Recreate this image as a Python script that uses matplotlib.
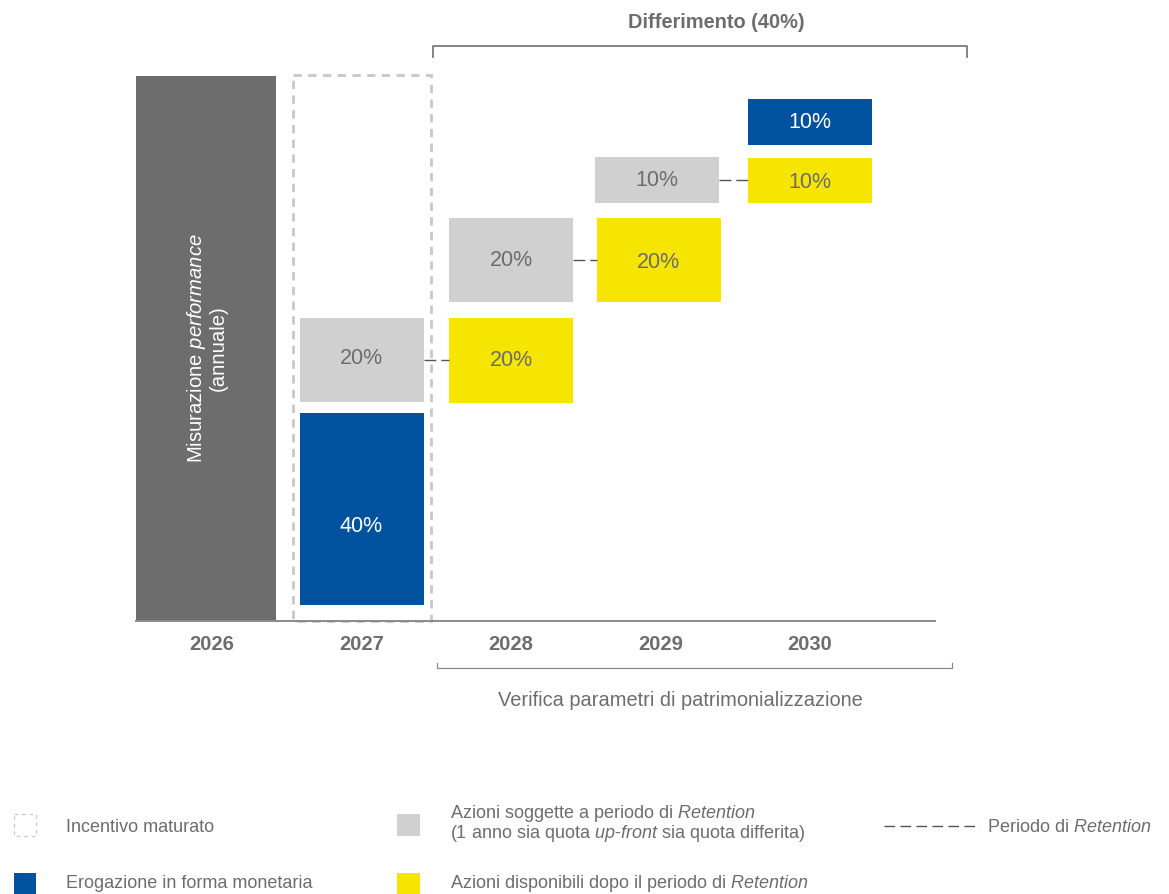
import matplotlib.pyplot as plt
from matplotlib.patches import Rectangle

plt.rcParams['font.family'] = ['Liberation Sans', 'DejaVu Sans']
plt.rcParams['mathtext.fontset'] = 'custom'
plt.rcParams['mathtext.rm'] = 'Liberation Sans'
plt.rcParams['mathtext.it'] = 'Liberation Sans:italic'

# Data
years = ['2026', '2027', '2028', '2029', '2030']
block_year = [1, 1, 2, 2, 3, 3, 4, 4]
block_kind = ['cash', 'retention', 'available', 'retention',
              'available', 'retention', 'available', 'cash']
block_label = ['40%', '20%', '20%', '20%', '20%', '10%', '10%', '10%']
# retention periods: from block -> to block
links = [(1, 2), (3, 4), (5, 6)]

# Layout (pixel rows, top / bottom of each block, label shift)
block_rows = [(413, 605), (318, 402), (318, 403), (218, 302),
              (218, 302), (157, 203), (158, 203), (99, 145)]
label_dy = [18, -1, 0, 0, 3, 1, 2, 1]
block_dx = [0, 0, 0, 0, -2, -4, 0, 0]

DARK = '#6d6d6d'
LIGHT = '#d0d0d0'
BLUE = '#00519e'
YELLOW = '#f5e500'
TXT = '#6d6d6d'
colors = {'cash': BLUE, 'retention': LIGHT, 'available': YELLOW}

x0, step, bw = 212, 149.5, 124
base_y = 621

def col_x(i):
    return x0 + step * i

fig = plt.figure(figsize=(11.69, 8.94), dpi=100)
ax = fig.add_axes([0, 0, 1, 1])
ax.set_xlim(0, 1169)
ax.set_ylim(894, 0)
ax.axis('off')

# Performance measurement bar (2026)
ax.add_patch(Rectangle((136, 76), 140, base_y - 76, color=DARK, lw=0))
ax.text(196, 348, r'Misurazione $\it{performance}$', rotation=90,
        ha='center', va='center', color='white', fontsize=14.6)
ax.text(218, 348, '(annuale)', rotation=90,
        ha='center', va='center', color='white', fontsize=14.6)

# Accrued incentive (dashed box around 2027)
ax.add_patch(Rectangle((col_x(1) - 69, 75), 138, base_y - 75, fill=False,
                       ec='#c8c8c8', lw=2, ls=(0, (3, 2.3))))

# Blocks
for yi, kind, lab, (top, bot), dy, dx in zip(block_year, block_kind, block_label,
                                              block_rows, label_dy, block_dx):
    cx = col_x(yi) + dx
    ax.add_patch(Rectangle((cx - bw / 2, top), bw, bot - top,
                           color=colors[kind], lw=0))
    ax.text(cx, (top + bot) / 2 + dy, lab, ha='center', va='center',
            fontsize=15.5, color='white' if kind == 'cash' else TXT)

# Retention links
for a, b in links:
    ya = (block_rows[a][0] + block_rows[a][1]) / 2
    xa = col_x(block_year[a]) + block_dx[a] + bw / 2
    xb = col_x(block_year[b]) + block_dx[b] - bw / 2
    ax.plot([xa, xb], [ya, ya], color='#555555', lw=1, ls=(0, (8.5, 3.6)))

# Baseline and year labels
ax.plot([136, 935], [base_y, base_y], color='#8a8a8a', lw=1.4)
for i, yr in enumerate(years):
    ax.text(col_x(i), 645, yr, ha='center', va='center', fontsize=14.5,
            fontweight='bold', color=TXT)

# Deferral bracket
ax.plot([433, 433, 967, 967], [57, 46, 46, 57], color='#707070', lw=1.2)
ax.text(716, 22, 'Differimento (40%)', ha='center', va='center',
        fontsize=14.4, fontweight='bold', color=TXT)

# Capital check bracket
ax.plot([437, 437, 952, 952], [663, 668, 668, 663], color='#8a8a8a', lw=0.9)
ax.text(680, 700, 'Verifica parametri di patrimonializzazione',
        ha='center', va='center', fontsize=14.4, color=TXT)

# Legend
ax.add_patch(Rectangle((14, 814), 22, 22, fill=False, ec='#c8c8c8',
                       lw=0.9, ls=(0, (3, 3))))
ax.text(66, 827, 'Incentivo maturato', va='center', fontsize=13, color=TXT)
ax.add_patch(Rectangle((14, 873), 22, 22, color=BLUE, lw=0))
ax.text(66, 884, 'Erogazione in forma monetaria', va='center', fontsize=13, color=TXT)
ax.add_patch(Rectangle((397, 814), 23, 22, color=LIGHT, lw=0))
ax.text(450, 813, r'Azioni soggette a periodo di $\it{Retention}$',
        va='center', fontsize=13, color=TXT)
ax.text(450, 833, r'(1 anno sia quota $\it{up}$-$\it{front}$ sia quota differita)',
        va='center', fontsize=13, color=TXT)
ax.add_patch(Rectangle((397, 873), 23, 22, color=YELLOW, lw=0))
ax.text(450, 884, r'Azioni disponibili dopo il periodo di $\it{Retention}$',
        va='center', fontsize=13, color=TXT)
ax.plot([884, 980], [826, 826], color='#555555', lw=1, ls=(0, (7.7, 3.8)))
ax.text(987, 827, r'Periodo di $\it{Retention}$', va='center', fontsize=13, color=TXT)

fig.savefig('out.png', dpi=100)
